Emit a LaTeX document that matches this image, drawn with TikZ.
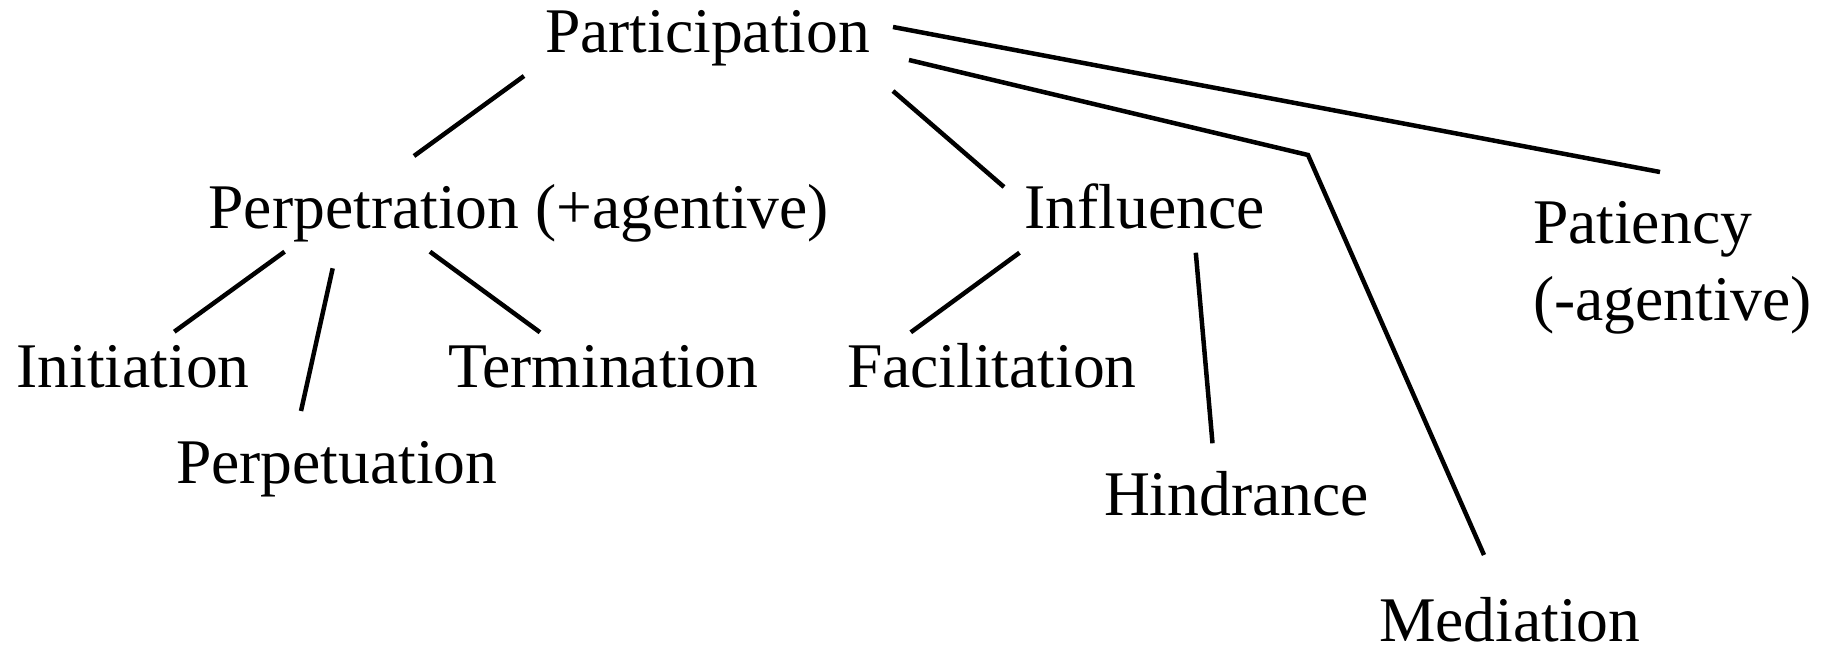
\documentclass[tikz,border=0pt]{standalone}
\usepackage{fontspec}
\setmainfont{Liberation Serif}
\begin{document}
\begin{tikzpicture}[x=1pt,y=-1pt,
  lbl/.style={anchor=base west,inner sep=0pt,outer sep=0pt,font=\fontsize{63.6}{77}\selectfont},
  link/.style={line width=4.5pt,black}]
\useasboundingbox (0,0) rectangle (1837,648);
% texts
\node[lbl] (part)  at (545,52)    {Participation};
\node[lbl] (perp)  at (208.5,228) {Perpetration (+agentive)};
\node[lbl] (infl)  at (1024.5,228){Influence};
\node[lbl] (pati)  at (1533,243)  {\begin{tabular}[t]{@{}l@{}}Patiency\\(-agentive)\end{tabular}};
\node[lbl] (init)  at (16.5,387.7){Initiation};
\node[lbl] (term)  at (448,387.7) {Termination};
\node[lbl] (perpu) at (176,483.3) {Perpetuation};
\node[lbl] (faci)  at (847,387.7) {Facilitation};
\node[lbl] (hind)  at (1104,515)  {Hindrance};
\node[lbl] (medi)  at (1379,641.7){Mediation};
% connector ends
\coordinate (p1) at (524,76);    \coordinate (q1) at (414,156);
\coordinate (p2) at (893,91);    \coordinate (q2) at (1004,187);
\coordinate (p3) at (893,27);    \coordinate (q3) at (1660,172);
\coordinate (p4) at (909,60);    \coordinate (b4) at (1308,155); \coordinate (q4) at (1484,555);
\coordinate (p5) at (284.6,251.7); \coordinate (q5) at (174.3,331.7);
\coordinate (p6) at (332.7,268.3); \coordinate (q6) at (301,411);
\coordinate (p7) at (430,251.7);   \coordinate (q7) at (540,332.3);
\coordinate (p8) at (1019.5,252.7);\coordinate (q8) at (910.8,332.3);
\coordinate (p9) at (1195.8,252.7);\coordinate (q9) at (1212.5,443.3);
% connectors
\draw[link] (p1) -- (q1);
\draw[link] (p2) -- (q2);
\draw[link] (p3) -- (q3);
\draw[link] (p4) -- (b4) -- (q4);
\draw[link] (p5) -- (q5);
\draw[link] (p6) -- (q6);
\draw[link] (p7) -- (q7);
\draw[link] (p8) -- (q8);
\draw[link] (p9) -- (q9);
\end{tikzpicture}
\end{document}
